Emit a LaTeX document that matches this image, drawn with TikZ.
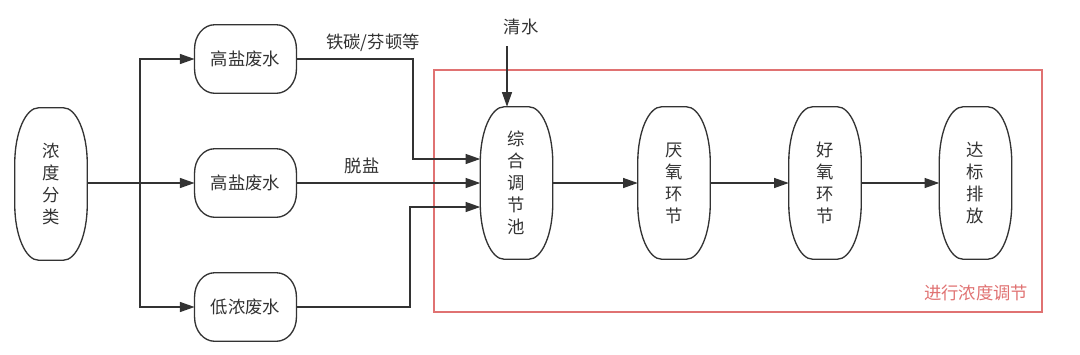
\documentclass[tikz,border=0pt]{standalone}
\usepackage{fontspec}
\setmainfont{Noto Sans CJK SC}
\usetikzlibrary{arrows.meta}
\definecolor{ink}{HTML}{333333}
\definecolor{redbox}{HTML}{E07272}
\newcommand\barrel[3]{%
\draw[boxline] ([xshift=#2]#1.north west) -- ([xshift=-#2]#1.north east)
 arc[start angle=90,end angle=0,x radius=#2,y radius=#3]
 -- ([yshift=#3]#1.south east)
 arc[start angle=0,end angle=-90,x radius=#2,y radius=#3]
 -- ([xshift=#2]#1.south west)
 arc[start angle=270,end angle=180,x radius=#2,y radius=#3]
 -- ([yshift=-#3]#1.north west)
 arc[start angle=180,end angle=90,x radius=#2,y radius=#3] -- cycle;}
\begin{document}
\begin{tikzpicture}[x=0.75pt,y=0.75pt,
  boxline/.style={draw=ink,line width=1pt},
  vbox/.style={minimum width=54pt,minimum height=114pt,inner sep=0pt,align=center,text=ink,
    font=\fontsize{13}{16.5}\selectfont},
  hbox/.style={minimum width=76pt,minimum height=51pt,inner sep=0pt,align=center,text=ink,
    font=\fontsize{13}{16}\selectfont},
  lbl/.style={text=ink,font=\fontsize{13}{16}\selectfont,inner sep=1pt},
  conn/.style={draw=ink,line width=1pt},
  arr/.style={conn,-{Triangle[length=11pt,width=7.5pt]}}]
\useasboundingbox (0,0) rectangle (1080,-354);
% red region
\draw[redbox,line width=1pt] (434,-70) rectangle (1042,-312);
\node[text=redbox,font=\fontsize{13}{16}\selectfont,inner sep=0pt] (lab) at (976,-293) {进行浓度调节};
% nodes
\node[vbox] (cls) at (51,-184) {浓\\度\\分\\类};
\node[hbox] (b1) at (245.5,-59) {高盐废水};
\node[hbox] (b2) at (245.5,-183) {高盐废水};
\node[hbox] (b3) at (245.5,-307) {低浓废水};
\node[vbox] (mix) at (516.5,-183) {综\\合\\调\\节\\池};
\node[vbox] (ana) at (674,-183) {厌\\氧\\环\\节};
\node[vbox] (aer) at (825,-183) {好\\氧\\环\\节};
\node[vbox] (out) at (975.5,-183) {达\\标\\排\\放};
\foreach \n in {cls,mix,ana,aer,out}{\barrel{\n}{18pt}{42pt}}
\foreach \n in {b1,b2,b3}{\barrel{\n}{15pt}{18pt}}
% labels
\node[lbl] (l1) at (373,-43) {铁碳/芬顿等};
\node[lbl] (l2) at (362,-166) {脱盐};
\node[lbl] (qs) at (521,-27) {清水};
% connectors
\coordinate (split) at (140,-183);
\draw[conn,line width=1.4pt] (cls.east |- split) -- (split);
\draw[arr] (split) |- (b1.west);
\draw[arr] (split) -- (b2.west);
\draw[arr] (split) |- (b3.west);
\coordinate (j1) at (413,-159);
\coordinate (j3) at (410,-207);
\draw[arr] (b1.east) -| (j1) -- (j1 -| mix.west);
\draw[arr] (b2.east) -- (b2.east -| mix.west);
\draw[arr] (b3.east) -| (j3) -- (j3 -| mix.west);
\coordinate (qtop) at (507,-46);
\draw[arr] (qtop) -- (qtop |- mix.north);
\draw[arr] (mix.east) -- (ana.west);
\draw[arr] (ana.east) -- (aer.west);
\draw[arr] (aer.east) -- (out.west);
\end{tikzpicture}
\end{document}
